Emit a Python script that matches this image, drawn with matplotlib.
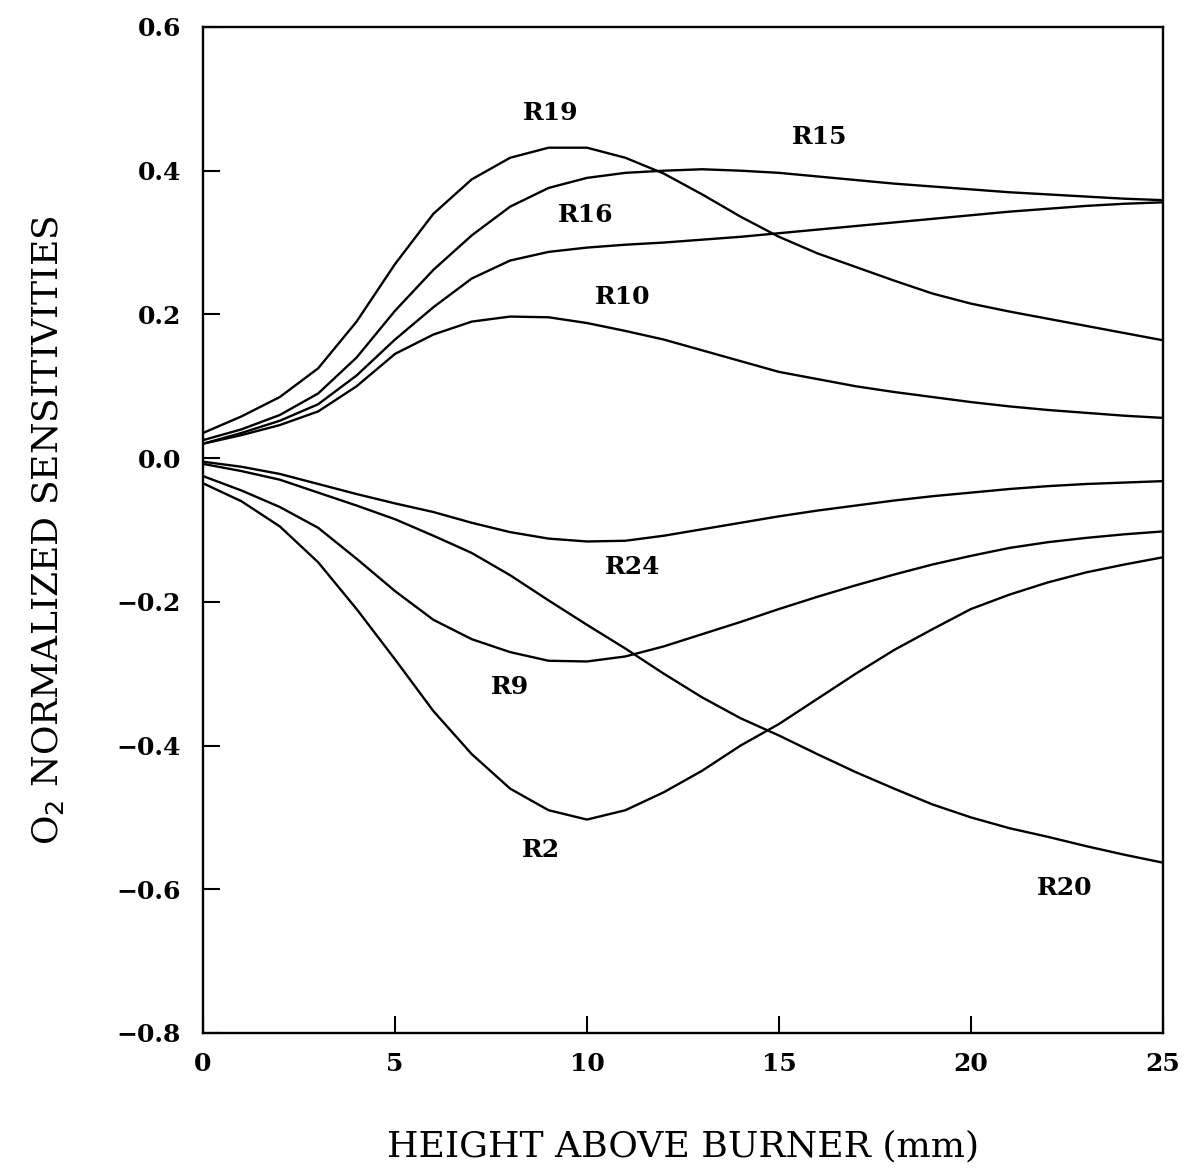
import matplotlib
matplotlib.use("Agg")
import matplotlib.pyplot as plt
import numpy as np

height_mm = list(range(0, 26))

r19 = [0.035, 0.058, 0.085, 0.125, 0.19, 0.27, 0.34, 0.388, 0.418, 0.432, 0.432, 0.418, 0.396, 0.367,
       0.336, 0.308, 0.285, 0.266, 0.247, 0.229, 0.215, 0.204, 0.194, 0.184, 0.174, 0.164]
r15 = [0.025, 0.04, 0.06, 0.09, 0.14, 0.205, 0.262, 0.31, 0.35, 0.376, 0.39, 0.397, 0.40, 0.402,
       0.40, 0.397, 0.392, 0.387, 0.382, 0.378, 0.374, 0.37, 0.367, 0.364, 0.361, 0.359]
r16 = [0.02, 0.035, 0.052, 0.075, 0.115, 0.165, 0.21, 0.25, 0.275, 0.287, 0.293, 0.297, 0.30, 0.304,
       0.308, 0.313, 0.318, 0.323, 0.328, 0.333, 0.338, 0.343, 0.347, 0.351, 0.354, 0.356]
r10 = [0.02, 0.032, 0.046, 0.065, 0.1, 0.145, 0.172, 0.19, 0.197, 0.196, 0.188, 0.177, 0.165, 0.15,
       0.135, 0.12, 0.11, 0.10, 0.092, 0.085, 0.078, 0.072, 0.067, 0.063, 0.059, 0.056]
r24 = [-0.005, -0.012, -0.022, -0.036, -0.05, -0.063, -0.075, -0.09, -0.103, -0.112, -0.116, -0.115,
       -0.108, -0.099, -0.09, -0.081, -0.073, -0.066, -0.059, -0.053, -0.048, -0.043, -0.039, -0.036,
       -0.034, -0.032]
r20 = [-0.008, -0.018, -0.03, -0.048, -0.066, -0.085, -0.108, -0.132, -0.163, -0.198, -0.232, -0.265,
       -0.30, -0.333, -0.362, -0.386, -0.412, -0.437, -0.46, -0.482, -0.50, -0.515, -0.527, -0.54,
       -0.552, -0.563]
r9 = [-0.025, -0.045, -0.068, -0.097, -0.14, -0.185, -0.225, -0.252, -0.27, -0.282, -0.283, -0.276,
      -0.262, -0.245, -0.228, -0.21, -0.193, -0.177, -0.162, -0.148, -0.136, -0.125, -0.117, -0.111,
      -0.106, -0.102]
r2 = [-0.035, -0.06, -0.095, -0.145, -0.21, -0.28, -0.352, -0.412, -0.46, -0.49, -0.503, -0.49, -0.465,
      -0.435, -0.40, -0.37, -0.335, -0.30, -0.267, -0.238, -0.21, -0.19, -0.173, -0.159, -0.148, -0.138]

series = {"R19": r19, "R15": r15, "R16": r16, "R10": r10,
          "R24": r24, "R20": r20, "R9": r9, "R2": r2}

label_names = ["R19", "R15", "R16", "R10", "R24", "R9", "R2", "R20"]
label_x = [9.06, 16.06, 9.97, 10.94, 11.2, 7.99, 8.8, 22.45]
label_y = [0.48, 0.447, 0.339, 0.224, -0.151, -0.319, -0.545, -0.598]

xticks = [0, 5, 10, 15, 20, 25]
yticks = [-0.8, -0.6, -0.4, -0.2, 0.0, 0.2, 0.4, 0.6]

serif = ["DejaVu Serif"]

fig = plt.figure(figsize=(11.85, 11.68), dpi=100)
ax = fig.add_axes([0.1713, 0.1156, 0.9814 - 0.1713, 0.9769 - 0.1156])

for name, vals in series.items():
    ax.plot(height_mm, vals, color="black", lw=1.7)

for n, lx, ly in zip(label_names, label_x, label_y):
    ax.text(lx, ly, n, ha="center", va="center", fontsize=18, fontweight="bold",
            family=serif)

ax.set_xlim(0, 25)
ax.set_ylim(-0.8, 0.6)
ax.set_xticks(xticks)
ax.set_yticks(yticks)
ax.set_xticklabels([str(t) for t in xticks], fontsize=18, fontweight="bold", family=serif)
ax.set_yticklabels([f"{t:.1f}".replace("-", "\u2212") for t in yticks], fontsize=18,
                   fontweight="bold", family=serif)
ax.tick_params(direction="in", length=12, width=1.5, top=False, right=False)
ax.tick_params(axis="x", pad=14)
ax.tick_params(axis="y", pad=16)
for sp in ax.spines.values():
    sp.set_linewidth(1.7)

ax.set_xlabel("HEIGHT ABOVE BURNER (mm)", fontsize=26, family=serif, labelpad=38)
ax.set_ylabel("O$_2$ NORMALIZED SENSITIVITIES", fontsize=26, family=serif, labelpad=36)

fig.savefig("out.png", dpi=100, facecolor="white")
